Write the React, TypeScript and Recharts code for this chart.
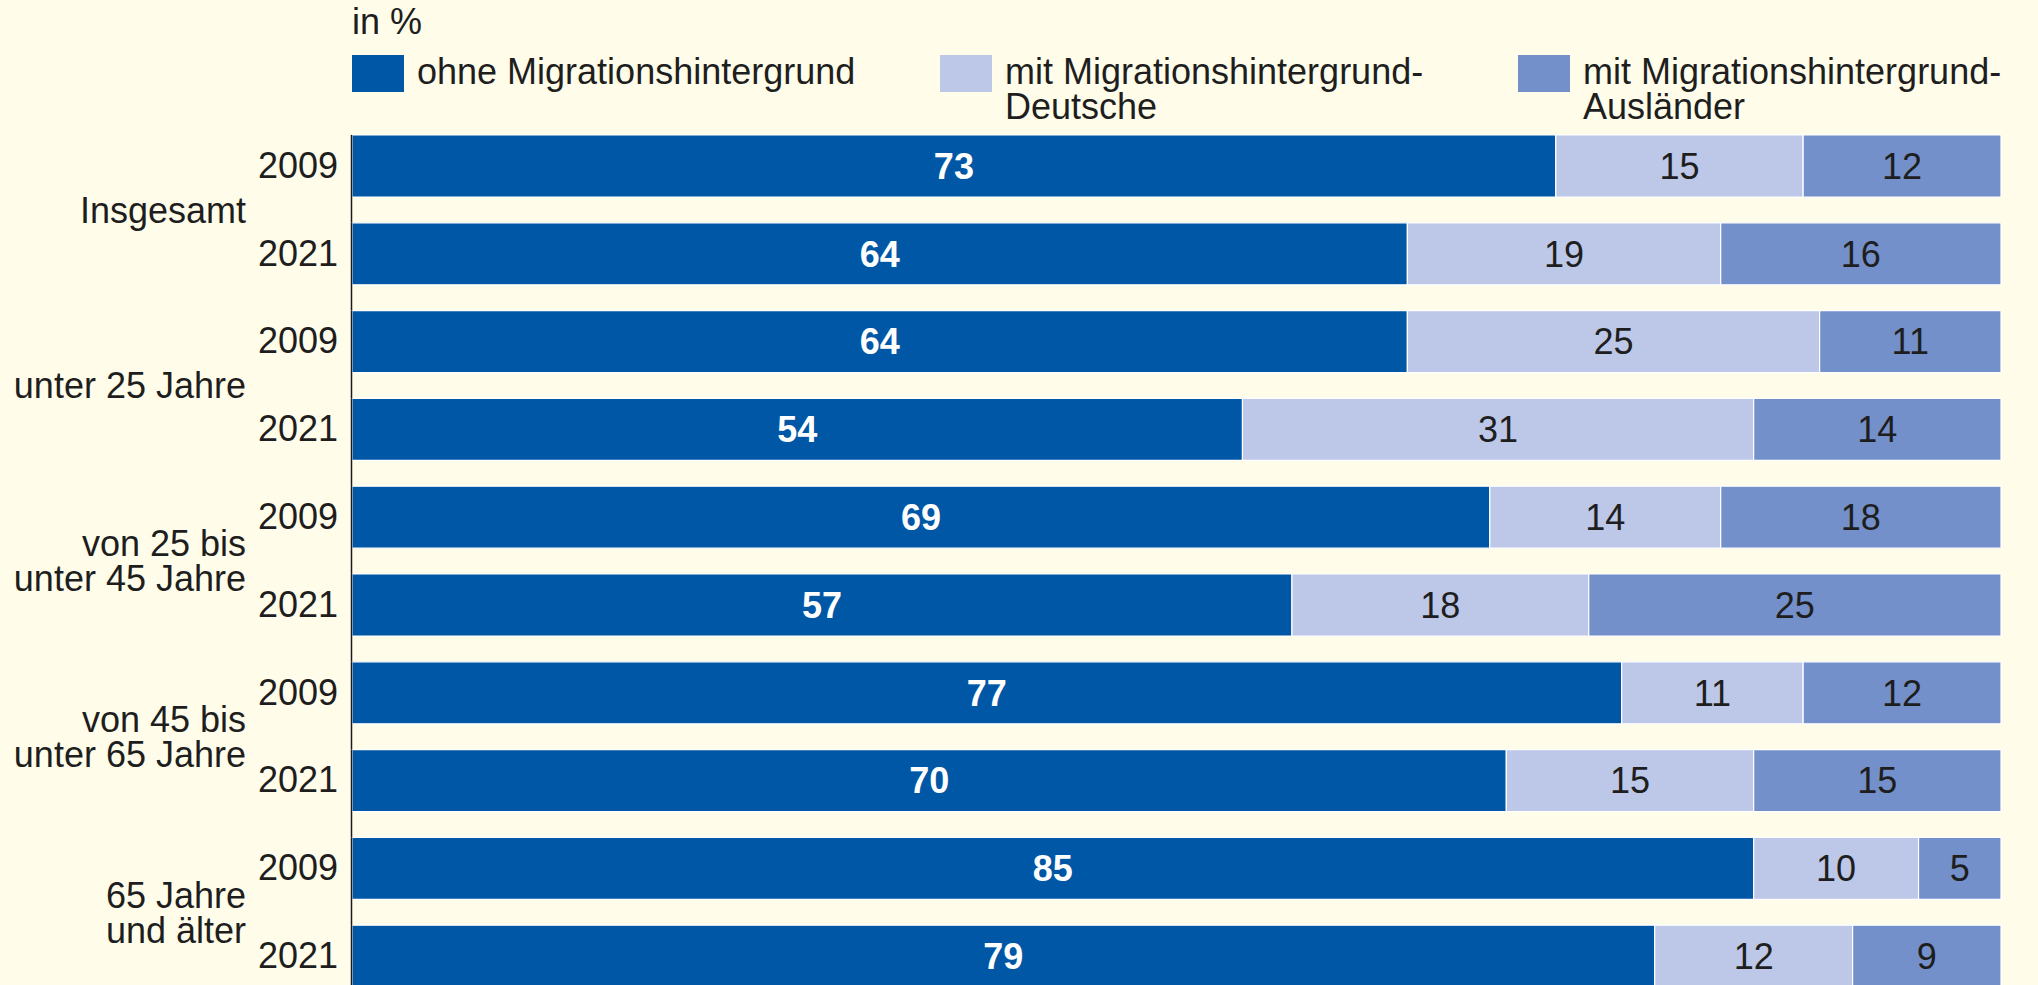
import { Bar, BarChart, LabelList, XAxis, YAxis } from "recharts";

const groups = [
  ["Insgesamt"],
  ["unter 25 Jahre"],
  ["von 25 bis", "unter 45 Jahre"],
  ["von 45 bis", "unter 65 Jahre"],
  ["65 Jahre", "und älter"],
];
const years = ["2009", "2021"];

// printed values
const ohne = [73, 64, 64, 54, 69, 57, 77, 70, 85, 79];
const deutsche = [15, 19, 25, 31, 14, 18, 11, 15, 10, 12];
const auslaender = [12, 16, 11, 14, 18, 25, 12, 15, 5, 9];
// drawn length of the last segment (bars always end at 100 in the original)
const auslaenderBar = [12, 17, 11, 15, 17, 25, 12, 15, 5, 9];

const seriesNames = [
  "ohne Migrationshintergrund",
  "mit Migrationshintergrund-\nDeutsche",
  "mit Migrationshintergrund-\nAusländer",
];

const C_DARK = "#0057a5";
const C_LIGHT = "#bdc7e7";
const C_MID = "#7490ca";
const BG = "#fffcea";
const TEXT = "#1e1e1e";
const FONT = "'Liberation Sans', Arial, sans-serif";
const BAND = 87.8;
const BAR = 62;

const rows = ohne.map((v, i) => ({
  key: String(i),
  ohne: v,
  deutsche: deutsche[i],
  auslaender: auslaenderBar[i],
  auslaenderLabel: auslaender[i],
}));

// eslint-disable-next-line @typescript-eslint/no-explicit-any
function RowTick(props: any) {
  const { y, payload } = props;
  const i = Number(payload.value);
  const lines = i % 2 === 0 ? groups[i / 2] : [];
  const mid = y + BAND / 2;
  return (
    <g fontFamily={FONT} fontSize={36} fill={TEXT}>
      {/* axis line starts at the top of the first bar, so it is drawn piecewise per row */}
      <line x1={351.5} x2={351.5} y1={y - BAR / 2} y2={y - BAR / 2 + BAND} stroke="#1a1a1a" strokeWidth={1.5} />
      <text x={338} y={y} dy="0.33em" textAnchor="end">
        {years[i % 2]}
      </text>
      {lines.map((l, k) => (
        <text key={k} x={246} y={mid + (k - (lines.length - 1) / 2) * 35} dy="0.36em" textAnchor="end">
          {l}
        </text>
      ))}
    </g>
  );
}

function LegendItem({ left, color, label }: { left: number; color: string; label: string }) {
  return (
    <div style={{ position: "absolute", left, top: 54, display: "flex" }}>
      <span style={{ width: 52, height: 37, background: color, marginTop: 1, flex: "none" }} />
      <span style={{ marginLeft: 13, whiteSpace: "pre", lineHeight: "35px" }}>{label}</span>
    </div>
  );
}

export default function App() {
  return (
    <div
      style={{
        position: "relative",
        width: 2038,
        height: 985,
        overflow: "hidden",
        background: BG,
        fontFamily: FONT,
        fontSize: 36,
        color: TEXT,
      }}
    >
      <style>{`html,body{margin:0;padding:0;overflow:hidden;background:${BG}}`}</style>
      <div style={{ position: "absolute", left: 352, top: 4, lineHeight: "35px" }}>in %</div>
      <LegendItem left={352} color={C_DARK} label={seriesNames[0]} />
      <LegendItem left={940} color={C_LIGHT} label={seriesNames[1]} />
      <LegendItem left={1518} color={C_MID} label={seriesNames[2]} />

      <BarChart
        width={2038}
        height={1000}
        data={rows}
        layout="vertical"
        margin={{ top: 122, right: 37, left: 0, bottom: 0 }}
        style={{ position: "absolute", left: 0, top: 0 }}
      >
        <XAxis type="number" hide domain={[0, 100]} />
        <YAxis
          type="category"
          dataKey="key"
          width={352}
          interval={0}
          tickLine={false}
          axisLine={false}
          tick={<RowTick />}
        />
        <Bar dataKey="ohne" stackId="a" fill={C_DARK} stroke="#ffffff" strokeWidth={1.2} barSize={BAR} isAnimationActive={false}>
          <LabelList dataKey="ohne" position="center" fill="#ffffff" fontWeight="bold" fontSize={36} fontFamily={FONT} />
        </Bar>
        <Bar dataKey="deutsche" stackId="a" fill={C_LIGHT} stroke="#ffffff" strokeWidth={1.2} barSize={BAR} isAnimationActive={false}>
          <LabelList dataKey="deutsche" position="center" fill={TEXT} fontSize={36} fontFamily={FONT} />
        </Bar>
        <Bar dataKey="auslaender" stackId="a" fill={C_MID} stroke="#ffffff" strokeWidth={1.2} barSize={BAR} isAnimationActive={false}>
          <LabelList dataKey="auslaenderLabel" position="center" fill={TEXT} fontSize={36} fontFamily={FONT} />
        </Bar>
      </BarChart>
    </div>
  );
}
